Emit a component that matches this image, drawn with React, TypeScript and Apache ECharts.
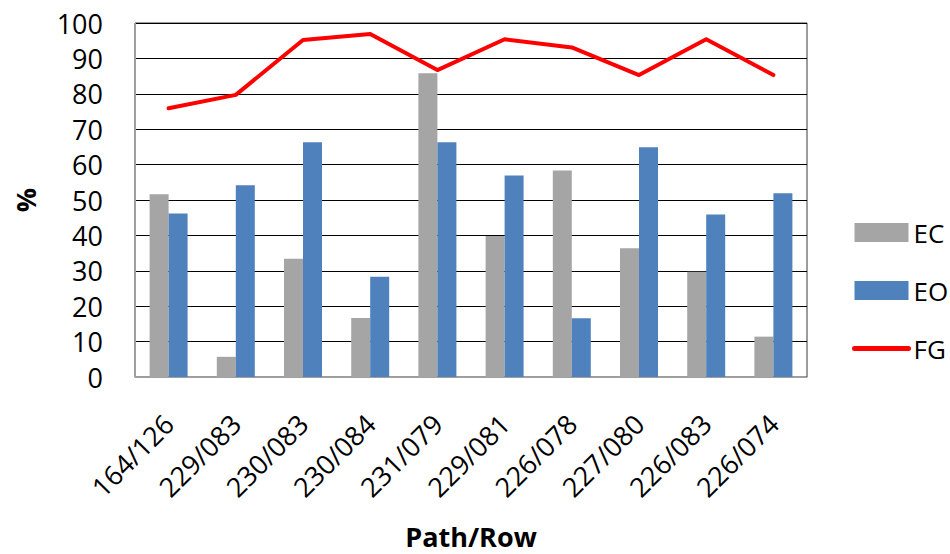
import React, { useEffect, useRef } from "react";
import * as echarts from "echarts";

const categories = ["164/126", "229/083", "230/083", "230/084", "231/079", "229/081", "226/078", "227/080", "226/083", "226/074"];
const ecValues = [51.6, 5.7, 33.4, 16.7, 85.8, 39.8, 58.3, 36.4, 29.7, 11.4];
const eoValues = [46.2, 54.2, 66.3, 28.3, 66.3, 56.9, 16.6, 64.9, 45.9, 51.9];
const fgValues = [75.9, 79.7, 95.2, 96.9, 86.7, 95.4, 93.1, 85.3, 95.4, 85.3];

const FONT = "'Open Sans', 'Liberation Sans', sans-serif";

export default function App() {
  const ref = useRef<HTMLDivElement>(null);
  useEffect(() => {
    document.body.style.margin = "0";
    if (!ref.current) return;
    const chart = echarts.init(ref.current, undefined, { renderer: "svg" });
    chart.setOption({
      animation: false,
      backgroundColor: "#ffffff",
      textStyle: { fontFamily: FONT },
      grid: {
        left: 135,
        right: 143,
        top: 23,
        bottom: 177,
        show: true,
        borderColor: "#3a3a3a",
        borderWidth: 1,
        outerBoundsMode: "none",
        containLabel: false,
      },
      legend: {
        orient: "vertical",
        left: 847,
        top: 214,
        itemWidth: 54,
        itemHeight: 19,
        itemGap: 31,
        textStyle: { fontSize: 26, color: "#000", fontFamily: FONT, lineHeight: 27 },
        data: [
          { name: "EC", icon: "rect" },
          { name: "EO", icon: "rect" },
          { name: "FG", itemStyle: { opacity: 0 }, lineStyle: { width: 5, color: "#ff0000", cap: "round" } },
        ],
      },
      xAxis: {
        type: "category",
        data: categories,
        name: "Path/Row",
        nameLocation: "middle",
        nameGap: 146,
        nameTextStyle: { fontSize: 27, fontWeight: "bold", color: "#000", fontFamily: FONT },
        axisLine: { show: true, lineStyle: { color: "#a0a0a0", width: 1 } },
        axisTick: { show: false },
        axisLabel: { rotate: 45, margin: 42, fontSize: 27, color: "#000", fontFamily: FONT, interval: 0 },
      },
      yAxis: {
        type: "value",
        min: 0,
        max: 100,
        interval: 10,
        name: "%",
        nameLocation: "middle",
        nameGap: 96,
        nameRotate: 90,
        nameTextStyle: { fontSize: 27, fontWeight: "bold", color: "#000", fontFamily: FONT },
        axisLine: { show: true, lineStyle: { color: "#a0a0a0", width: 1 } },
        axisTick: { show: false },
        axisLabel: { margin: 32, fontSize: 27, color: "#000", fontFamily: FONT },
        splitLine: { show: true, lineStyle: { color: "#000", width: 1 } },
      },
      series: [
        {
          name: "EC",
          type: "bar",
          data: ecValues,
          barWidth: 19,
          barGap: "0%",
          itemStyle: { color: "#a5a5a5" },
        },
        {
          name: "EO",
          type: "bar",
          data: eoValues,
          barWidth: 19,
          barGap: "0%",
          itemStyle: { color: "#4f81bd" },
        },
        {
          name: "FG",
          type: "line",
          data: fgValues,
          symbol: "none",
          showSymbol: false,
          lineStyle: { color: "#ff0000", width: 4, join: "round", cap: "round" },
          itemStyle: { color: "#ff0000" },
        },
      ],
    });
    return () => chart.dispose();
  }, []);
  return <div ref={ref} style={{ width: 950, height: 554 }} />;
}
